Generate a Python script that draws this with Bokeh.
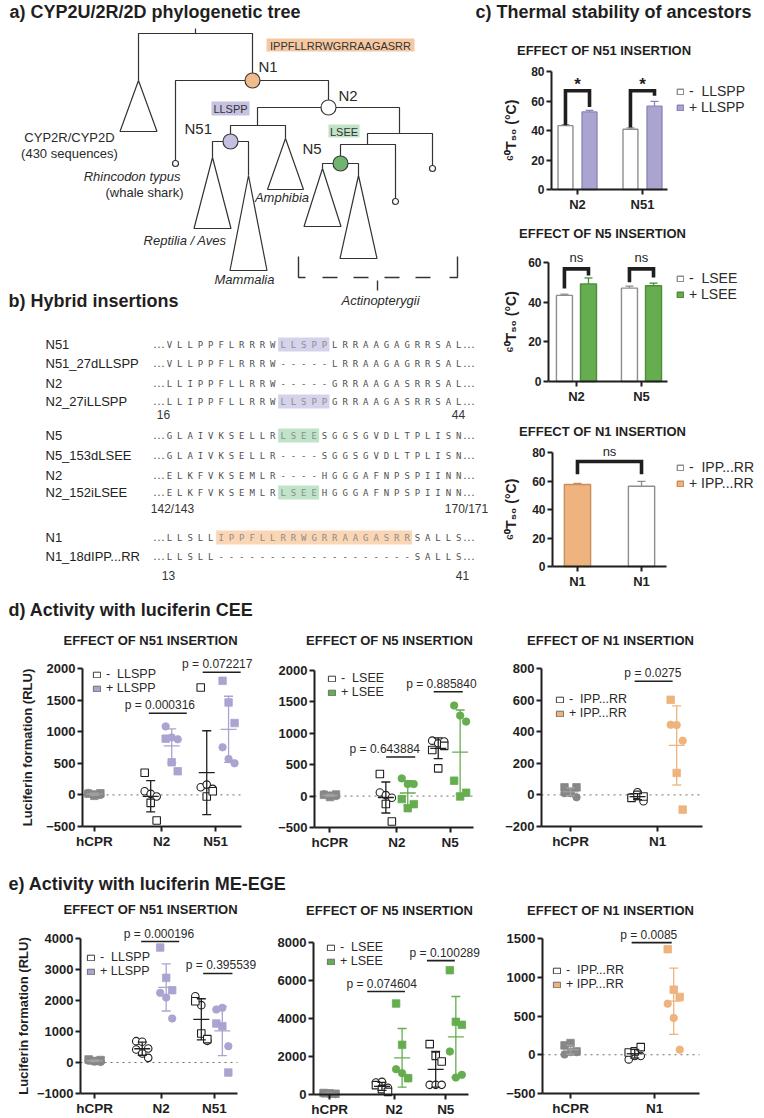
import numpy as np
from bokeh.plotting import figure
from bokeh.models import Range1d, FixedTicker, Label, Legend, LegendItem, ColumnDataSource
from bokeh.layouts import column, row
from bokeh.core.properties import value
from bokeh.embed import file_html
from bokeh.resources import INLINE

FONT = "Liberation Sans"
MONO = "DejaVu Sans Mono"
INK = "#1f1f1f"
TXT = "#2a2a2a"
LAV = "#a9a4d0"
LAV_EDGE = "#8c87b8"
GRN = "#66ad50"
GRN_EDGE = "#4d8c3a"
ORA = "#eeb37e"
ORA_EDGE = "#c98e5c"
GRY = "#878787"
WHITE_EDGE = "#8e8e8e"

# ======================= DATA =======================
# c) thermal stability, 60T50 (deg C): mean and SD
c1_groups = ["N2", "N51"]
c1_minus = [43.3, 40.8]
c1_minus_sd = [0.7, 1.0]
c1_plus = [52.6, 56.5]
c1_plus_sd = [1.0, 3.2]
c1_sig = ["*", "*"]
c1_bracket = [67, 67]
c1_legs = [(43.6, 56.0), (42.0, 63.5)]

c2_groups = ["N2", "N5"]
c2_minus = [43.4, 47.1]
c2_minus_sd = [0.6, 1.0]
c2_plus = [49.2, 48.3]
c2_plus_sd = [3.0, 1.3]
c2_sig = ["ns", "ns"]
c2_bracket = [56.8, 56.8]
c2_legs = [(46.9, 53.4), (50.0, 52.5)]

c3_groups = ["N1", "N1"]
c3_plus = [57.5]      # N1 (+ IPP...RR)
c3_plus_sd = [0.8]
c3_minus = [56.3]     # N1_18dIPP...RR (- IPP...RR)
c3_minus_sd = [3.5]
c3_sig = ["ns"]
c3_bracket = [73.7]
c3_legs = [(64.8, 64.8)]

# d) luciferin CEE (RLU); first three = replicate set 1 (circles), last three = set 2 (squares)
cee_hcpr = [30, 10, 0, 20, -15, 25]
cee_n2_minus = [58, 16, -26, 351, -126, -405]
cee_n2_llspp = [1084, 910, 880, 890, 516, 374]
cee_n51_minus = [121, 163, 95, 1700, -26, 58]
cee_n51_llspp = [753, 568, 500, 1805, 1463, 1137]
cee_n2_lsee = [282, 192, 192, -48, -192, -128]
cee_n5_minus = [883, 840, 870, 734, 441, 800]
cee_n5_lsee = [1442, 1282, 1186, 245, -5, 53]
cee_hcpr_n1 = [11, 11, -15, 48, 17, 48]
cee_n1_minus = [-15, 17, -40, -19, 0, -10]
cee_n1_ipp = [444, 442, 343, 602, 139, -93]
cee_pvals = ["p = 0.000316", "p = 0.072217", "p = 0.643884", "p = 0.885840", "p = 0.0275"]

# e) luciferin ME-EGE (RLU)
meg_hcpr = [60, 30, 20, 100, 50, 80]
meg_n2_minus_a = [688, 667, 452, 419, 290, 150]
meg_n2_llspp = [2247, 2096, 1419, 3709, 2731, 2333]
meg_n51_minus = [2139, 1850, 699, 1978, 935, 753]
meg_n51_llspp = [1709, 1763, 527, 1258, 1172, -323]
meg_hcpr_b = [50, 30, 20, 80, 60, 40]
meg_n2_minus = [631, 667, 351, 491, 281, 140]
meg_n2_lsee = [1333, 1123, 860, 4789, 2613, 860]
meg_n5_minus = [509, 509, 509, 2649, 2035, 1736]
meg_n5_lsee = [2263, 895, 1035, 6543, 3824, 3666]
meg_hcpr_c = [4, 34, 34, 121, 151, 43]
meg_n1_minus = [-60, -17, -17, 30, 43, 99]
meg_n1_ipp = [659, 474, 65, 1362, 840, 746]
meg_pvals = ["p = 0.000196", "p = 0.395539", "p = 0.074604", "p = 0.100289", "p = 0.0085"]

REP_MARKERS = ["circle", "circle", "circle", "square", "square", "square"]
ALL_CIRCLES = ["circle"] * 6
JITTER_PX = [-6.0, 0.0, 6.0, -6.0, 0.0, 6.0]

# b) alignment
aln_blocks = [
    (["N51", "N51_27dLLSPP", "N2", "N2_27iLLSPP"],
     ["VLLPPFLRRRWLLSPPLRRAAGAGRRSAL", "VLLPPFLRRRW-----LRRAAGAGRRSAL",
      "LLIPPFLLRRW-----GRRAAGASRRSAL", "LLIPPFLLRRWLLSPPGRRAAGASRRSAL"],
     [True, False, False, True], (11, 15), "#d5d2eb", ("16", "44")),
    (["N5", "N5_153dLSEE", "N2", "N2_152iLSEE"],
     ["GLAIVKSELLRLSEESGGSGVDLTPLISN", "GLAIVKSELLR----SGGSGVDLTPLISN",
      "ELKFVKSEMLR----HGGGAFNPSPIINN", "ELKFVKSEMLRLSEEHGGGAFNPSPIINN"],
     [True, False, False, True], (11, 14), "#bfe4ca", ("142/143", "170/171")),
    (["N1", "N1_18dIPP...RR"],
     ["LLSLLIPPFLLRRWGRRAAGASRRSALLS", "LLSLL-------------------SALLS"],
     [True, False], (5, 23), "#fad6b5", ("13", "41")),
]
aln_row_y = [[344, 363, 383, 401], [435, 455, 475, 492], [537, 556]]
aln_num_y = [414, 508, 575]
aln_num_x = [(163, 458), (172, 466), (168, 462)]
AL_X0, AL_DX = 169.0, 10.33


# ======================= HELPERS =======================
def canvas(w, h, x0, x1, y_top, y_bottom):
    p = figure(width=w, height=h, x_range=Range1d(x0, x1), y_range=Range1d(y_bottom, y_top),
               output_backend="svg", toolbar_location=None,
               x_axis_location=None, y_axis_location=None, min_border=0)
    p.grid.visible = False
    p.outline_line_color = None
    return p


def put_text(p, x, y, s, size, style="normal", align="left", color=TXT, baseline="middle", font=FONT):
    p.text(x=[x], y=[y], text=[s], text_font=value(font), text_font_size=size,
           text_font_style=style, text_align=align, text_baseline=baseline, text_color=color)


def chart_fig(w, h, box, xdom, ydom, ytick_size, xtick_size):
    """Whole figure is the frame; the axes sit at fixed data positions (the GraphPad box)."""
    left, right, top, bottom = box
    sx = (xdom[1] - xdom[0]) / (right - left)
    sy = (ydom[1] - ydom[0]) / (bottom - top)
    xr = Range1d(xdom[0] - left * sx, xdom[1] + (w - right) * sx)
    yr = Range1d(ydom[0] - (h - bottom) * sy, ydom[1] + top * sy)
    p = figure(width=w, height=h, x_range=xr, y_range=yr, output_backend="svg",
               toolbar_location=None, min_border=0)
    p.xgrid.visible = False
    p.ygrid.visible = False
    p.outline_line_color = None
    p.xaxis.fixed_location = ydom[0]
    p.yaxis.fixed_location = xdom[0]
    p.xaxis.bounds = (xdom[0], xdom[1])
    p.yaxis.bounds = (ydom[0], ydom[1])
    for ax in p.axis:
        ax.axis_line_width = 2
        ax.axis_line_color = INK
        ax.major_tick_line_width = 2
        ax.major_tick_line_color = INK
        ax.major_tick_in = 0
        ax.major_tick_out = 5
        ax.minor_tick_line_color = None
        ax.major_label_text_font = FONT
        ax.major_label_text_font_style = "bold"
        ax.major_label_text_color = INK
        ax.major_label_standoff = 2
    p.yaxis.major_label_text_font_size = ytick_size
    p.xaxis.major_label_text_font_size = xtick_size
    return p, sx


def add_title(p, text, xy, size="13px"):
    p.add_layout(Label(x=xy[0], y=xy[1], x_units="screen", y_units="screen", text=text,
                       text_font=FONT, text_font_style="bold", text_font_size=size,
                       text_align="center", text_baseline="middle", text_color=INK))


def style_legend(leg, size):
    leg.border_line_color = None
    leg.background_fill_alpha = 0
    leg.padding = 0
    leg.margin = 0
    leg.spacing = 0
    leg.label_text_font = FONT
    leg.label_text_font_size = size
    leg.label_text_color = TXT
    leg.label_height = 14
    leg.glyph_height = 7
    leg.glyph_width = 9
    leg.label_standoff = 5


def set_ylabel(p, text, standoff, size="13px"):
    p.yaxis.axis_label = text
    p.yaxis.axis_label_text_font = FONT
    p.yaxis.axis_label_text_font_size = size
    p.yaxis.axis_label_text_font_style = "bold"
    p.yaxis.axis_label_text_color = INK
    p.yaxis.axis_label_standoff = int(standoff)


# ---------- c) thermal stability bar charts ----------
def thermal_chart(h, box, xdom, ymax, yticks, labels, bars, brackets, levels, legs, sigs,
                  leg_loc, title, title_xy, ylab_standoff):
    p, upx = chart_fig(261, h, box, xdom, (0, ymax), "12px", "13px")
    p.yaxis.ticker = FixedTicker(ticks=yticks)
    p.xaxis.ticker = FixedTicker(ticks=[1, 2])
    p.xaxis.major_label_overrides = {1: labels[0], 2: labels[1]}
    set_ylabel(p, "\u2076\u2070T\u2085\u2080 (\u00b0C)", ylab_standoff, "14px")
    items = []
    for b in bars:
        xs = np.asarray(b["x"], float)
        tops = np.asarray(b["top"], float)
        sds = np.asarray(b["sd"], float)
        r = p.vbar(x=xs, top=tops, bottom=0, width=b["w"], fill_color=b["fill"],
                   line_color=b["edge"], line_width=1.4)
        cw = 4 * upx
        p.segment(x0=xs, y0=tops, x1=xs, y1=tops + sds, line_color=b["edge"], line_width=1.3)
        p.segment(x0=xs - cw, y0=tops + sds, x1=xs + cw, y1=tops + sds, line_color=b["edge"], line_width=1.3)
        items.append(LegendItem(label=b["label"], renderers=[r]))
    bx, by = [], []
    for (xl, xrr), lvl, (yl, yr) in zip(brackets, levels, legs):
        bx.append([xl, xl, xrr, xrr])
        by.append([yl, lvl, lvl, yr])
    p.multi_line(xs=bx, ys=by, line_color=INK, line_width=3.6, line_join="miter")
    for sx, sy, s in sigs:
        bold = s == "*"
        p.add_layout(Label(x=sx, y=sy, text=s, text_font=FONT,
                           text_font_size="17px" if bold else "13px",
                           text_font_style="bold" if bold else "normal",
                           text_align="center", text_baseline="middle", text_color=INK))
    leg = Legend(items=items, location=leg_loc)
    style_legend(leg, "14px")
    leg.glyph_width = 8
    p.add_layout(leg)
    add_title(p, title, title_xy)
    return p


# ---------- d/e) luciferin scatter charts ----------
def draw_group(p, xc, vals, kind, color, markers, upx):
    vals = np.asarray(vals, dtype=float)
    n = len(vals)
    xs = xc + np.asarray(JITTER_PX[:n]) * upx
    if kind == "minus":
        fill, edge, ebar, lw = "white", "#202020", "#202020", 1.1
    elif kind == "ctrl":
        fill, edge, ebar, lw = GRY, GRY, "#a0a0a0", 0.8
    else:
        fill, edge, ebar, lw = color, color, color, 0.8
    src = ColumnDataSource(dict(x=xs, y=vals, m=list(markers[:n])))
    p.scatter(x="x", y="y", marker="m", source=src, size=7.5, fill_color=fill,
              line_color=edge, line_width=lw)
    m = vals.mean()
    s = vals.std(ddof=1)
    mw, cw = 8 * upx, 4.5 * upx
    p.segment(x0=[xc, xc - cw, xc - cw, xc - mw], y0=[m - s, m + s, m - s, m],
              x1=[xc, xc + cw, xc + cw, xc + mw], y1=[m + s, m + s, m - s, m],
              line_color=ebar, line_width=1.3)
    return xc, m


def lum_chart(w, h, box, xdom, ydom, yticks, cats, groups, pvals, leg_labels, leg_color,
              leg_loc, title, title_xy, ylabel=None, ylab_standoff=0):
    p, upx = chart_fig(w, h, box, xdom, ydom, "13px", "13.5px")
    p.yaxis.ticker = FixedTicker(ticks=yticks)
    p.xaxis.ticker = FixedTicker(ticks=[c[0] for c in cats])
    p.xaxis.major_label_overrides = {c[0]: c[1] for c in cats}
    # dotted zero line across the axis box
    p.segment(x0=[xdom[0]], y0=[0], x1=[xdom[1]], y1=[0], line_color="#6e6e6e",
              line_width=1, line_dash="dotted")
    ref = None
    for g in groups:
        ref = draw_group(p, *g, upx=upx)
    for text, tx, x0, x1, yb in pvals:
        p.segment(x0=[x0], y0=[yb], x1=[x1], y1=[yb], line_color=INK, line_width=1.6)
        p.add_layout(Label(x=tx, y=yb, text=text, text_font=FONT, text_font_size="12px",
                           text_color=TXT, text_align="center", text_baseline="bottom",
                           y_offset=1))
    rs = []
    for fill, edge in (("white", "#3a3a3a"), (leg_color, "#707070")):
        rs.append(p.rect(x=[ref[0]], y=[ref[1]], width=0.01, height=0.01, fill_color=fill,
                         line_color=edge, line_width=1, visible=False))
    leg = Legend(items=[LegendItem(label=leg_labels[0], renderers=[rs[0]]),
                        LegendItem(label=leg_labels[1], renderers=[rs[1]])], location=leg_loc)
    style_legend(leg, "12.5px")
    p.add_layout(leg)
    add_title(p, title, title_xy)
    if ylabel:
        set_ylabel(p, ylabel, ylab_standoff)
    return p


# ======================= STRIP TITLES =======================
s1 = canvas(764, 24, 0, 764, 0, 24)
put_text(s1, 9, 11, "a) CYP2U/2R/2D phylogenetic tree", "18px", "bold", color=INK)
put_text(s1, 475, 11, "c) Thermal stability of ancestors", "18px", "bold", color=INK)

s_d = canvas(764, 25, 0, 764, 599, 624)
put_text(s_d, 8, 609.5, "d) Activity with luciferin CEE", "18px", "bold", color=INK)

s_e = canvas(764, 27, 0, 764, 870, 897)
put_text(s_e, 8, 883, "e) Activity with luciferin ME-EGE", "18px", "bold", color=INK)

# ======================= PANEL a + b =======================
ab = canvas(503, 575, 0, 503, 24, 599)
TREE = "#333333"
tree_edges = [
    [(138, 80), (138, 33), (252, 33), (252, 80)],
    [(195, 28), (195, 33)],
    [(175, 163), (175, 80), (328, 80), (328, 107)],
    [(257, 125), (257, 107), (399, 107), (399, 133)],
    [(230, 141), (230, 125), (285, 125), (285, 138)],
    [(212, 157), (212, 141), (248, 141), (248, 175)],
    [(432, 168), (432, 133), (367, 133), (367, 144)],
    [(395, 201), (395, 144), (340, 144), (340, 163)],
    [(322, 168), (322, 163), (358, 163), (358, 175)],
]
ab.multi_line(xs=[[q[0] for q in e] for e in tree_edges], ys=[[q[1] for q in e] for e in tree_edges],
              line_color=TREE, line_width=1.2)
clades = [(138, 80, 18.5, 131), (212, 157, 18.5, 228), (248, 175, 18.5, 270),
          (285, 138, 18, 189), (322, 168, 18.5, 226), (358, 175, 18.5, 258)]
ab.patches(xs=[[ax, ax - hw, ax + hw] for ax, ay, hw, byy in clades],
           ys=[[ay, byy, byy] for ax, ay, hw, byy in clades],
           fill_color="white", line_color=TREE, line_width=1.2)
# Actinopterygii bracket
ab.line(x=[298, 298, 305], y=[256, 277, 277], line_color=TREE, line_width=1.4)
ab.line(x=[449, 457, 457], y=[277, 277, 256], line_color=TREE, line_width=1.4)
ab.line(x=[322, 432], y=[277, 277], line_color=TREE, line_width=1.4, line_dash="15 16")
ab.segment(x0=[377], y0=[280], x1=[377], y1=[290], line_color=TREE, line_width=1.4)
# tips
ab.scatter(x=[175, 432, 395], y=[163, 168, 201], size=6, fill_color="white",
           line_color=TREE, line_width=1.2)
# tag boxes
tags = [("IPPFLLRRWGRRAAGASRR", 266, 414, 38, 51, "#f6c8a2"),
        ("LLSPP", 211, 249, 101, 115, "#c6c2e2"),
        ("LSEE", 328, 359, 124, 137, "#bfe3c7")]
ab.quad(left=[t[1] for t in tags], right=[t[2] for t in tags], top=[t[3] for t in tags],
        bottom=[t[4] for t in tags], fill_color=[t[5] for t in tags], line_color=None)
for t in tags:
    put_text(ab, (t[1] + t[2]) / 2, (t[3] + t[4]) / 2 + 0.5, t[0], "11px", align="center", color="#333333")
# ancestral nodes
nodes = [(252, 80, "#f3bb8c"), (328, 107, "white"), (230, 141, "#c3c0e0"), (340, 163, "#6fb46f")]
ab.scatter(x=[n[0] for n in nodes], y=[n[1] for n in nodes], size=15,
           fill_color=[n[2] for n in nodes], line_color="#3a3a3a", line_width=1.2)
put_text(ab, 258, 66, "N1", "15px")
put_text(ab, 338, 95, "N2", "15px")
put_text(ab, 184, 128, "N51", "15px")
put_text(ab, 302, 148, "N5", "15px")
put_text(ab, 69, 137, "CYP2R/CYP2D", "13px", align="center")
put_text(ab, 69, 153, "(430 sequences)", "13px", align="center")
put_text(ab, 180, 176, "Rhincodon typus", "13px", "italic", align="right")
put_text(ab, 183, 192, "(whale shark)", "13px", align="right")
put_text(ab, 184.5, 240, "Reptilia / Aves", "13px", "italic", align="center")
put_text(ab, 244, 279, "Mammalia", "13px", "italic", align="center")
put_text(ab, 281.5, 197, "Amphibia", "13px", "italic", align="center")
put_text(ab, 380, 300, "Actinopterygii", "13px", "italic", align="center")
put_text(ab, 8, 300, "b) Hybrid insertions", "18px", "bold", color=INK)

# alignment
hl_l, hl_r, hl_t, hl_b, hl_c = [], [], [], [], []
lx, ly, lt, lc = [], [], [], []
for (names, seqs, hls, (i0, i1), hcol, nums), ys, ny, (nx0, nx1) in zip(aln_blocks, aln_row_y, aln_num_y, aln_num_x):
    for name, seq, hl, y in zip(names, seqs, hls, ys):
        put_text(ab, 45, y, name, "13px", color="#222222")
        if hl:
            hl_l.append(AL_X0 + AL_DX * i0 - 5)
            hl_r.append(AL_X0 + AL_DX * i1 + 5)
            hl_t.append(y - 7)
            hl_b.append(y + 7)
            hl_c.append(hcol)
        for k, ch in enumerate(seq):
            lx.append(AL_X0 + AL_DX * k)
            ly.append(y)
            lt.append(ch)
            lc.append("#8d8d8d" if (hl and i0 <= k <= i1) else "#505050")
        for d in range(3):
            lx += [AL_X0 - 14.5 + 4 * d, AL_X0 + AL_DX * len(seq) - 4 + 4 * d]
            ly += [y, y]
            lt += [".", "."]
            lc += ["#505050", "#505050"]
    put_text(ab, nx0, ny, nums[0], "12px", align="center", color="#333333")
    put_text(ab, nx1, ny, nums[1], "12px", align="center", color="#333333")
ab.quad(left=hl_l, right=hl_r, top=hl_t, bottom=hl_b, fill_color=hl_c, line_color=None)
ab.text(x=lx, y=ly, text=lt, text_color=lc, text_font=value(MONO), text_font_size="9px",
        text_align="center", text_baseline="middle")

# ======================= PANEL c =======================
c1 = thermal_chart(
    188, (48, 164, 47, 165), (0.6, 2.385), 80, [0, 20, 40, 60, 80], c1_groups,
    [dict(x=[1 - 0.185, 2 - 0.185], top=c1_minus, sd=c1_minus_sd, w=0.23, fill="white",
          edge=WHITE_EDGE, label="-  LLSPP"),
     dict(x=[1 + 0.185, 2 + 0.185], top=c1_plus, sd=c1_plus_sd, w=0.23, fill=LAV,
          edge=LAV_EDGE, label="+ LLSPP")],
    [(1 - 0.185, 1 + 0.185), (2 - 0.185, 2 + 0.185)], c1_bracket, c1_legs,
    [(1, 71, c1_sig[0]), (2, 71, c1_sig[1])], (173, 97), "EFFECT OF N51 INSERTION", (100.5, 162), 9)

c2 = thermal_chart(
    193, (45, 164, 50, 169), (0.57, 2.4), 60, [0, 20, 40, 60], c2_groups,
    [dict(x=[1 - 0.185, 2 - 0.185], top=c2_minus, sd=c2_minus_sd, w=0.246, fill="white",
          edge=WHITE_EDGE, label="-  LSEE"),
     dict(x=[1 + 0.185, 2 + 0.185], top=c2_plus, sd=c2_plus_sd, w=0.246, fill=GRN,
          edge=GRN_EDGE, label="+ LSEE")],
    [(1 - 0.185, 1 + 0.185), (2 - 0.185, 2 + 0.185)], c2_bracket, c2_legs,
    [(1, 62.6, c2_sig[0]), (2, 62.6, c2_sig[1])], (173, 103), "EFFECT OF N5 INSERTION", (99, 172), 6)

c3 = thermal_chart(
    194, (49, 163, 47, 161), (0.61, 2.39), 80, [0, 20, 40, 60, 80], c3_groups,
    [dict(x=[2], top=c3_minus, sd=c3_minus_sd, w=0.41, fill="white", edge=WHITE_EDGE,
          label="-  IPP...RR"),
     dict(x=[1], top=c3_plus, sd=c3_plus_sd, w=0.41, fill=ORA, edge=ORA_EDGE,
          label="+ IPP...RR")],
    [(1, 2)], c3_bracket, c3_legs,
    [(1.5, 80.7, c3_sig[0])], (173, 108), "EFFECT OF N1 INSERTION", (99, 168), 10)

# ======================= PANEL d =======================
d1 = lum_chart(258, 246, (82, 241, 44, 202), (0.56, 6.46), (-500, 2000),
               [-500, 0, 500, 1000, 1500, 2000], [(1, "hCPR"), (3.5, "N2"), (5.5, "N51")],
               [(1, cee_hcpr, "ctrl", GRY, REP_MARKERS),
                (3.09, cee_n2_minus, "minus", None, REP_MARKERS),
                (3.87, cee_n2_llspp, "plus", LAV, REP_MARKERS),
                (5.17, cee_n51_minus, "minus", None, REP_MARKERS),
                (5.98, cee_n51_llspp, "plus", LAV, REP_MARKERS)],
               [(cee_pvals[0], 3.43, 3.02, 4.43, 1293), (cee_pvals[1], 5.56, 5.02, 6.43, 1940)],
               ("-  LLSPP", "+ LLSPP"), LAV, (92, 175), "EFFECT OF N51 INSERTION", (150, 230),
               ylabel="Luciferin formation (RLU)", ylab_standoff=8)

d2 = lum_chart(242, 246, (56, 215, 46, 203), (0.42, 6.37), (-500, 2000),
               [-500, 0, 500, 1000, 1500, 2000], [(1, "hCPR"), (3.5, "N2"), (5.5, "N5")],
               [(1, cee_hcpr, "ctrl", GRY, REP_MARKERS),
                (3.09, cee_n2_minus, "minus", None, REP_MARKERS),
                (3.91, cee_n2_lsee, "plus", GRN, REP_MARKERS),
                (5.05, cee_n5_minus, "minus", None, REP_MARKERS),
                (5.87, cee_n5_lsee, "plus", GRN, REP_MARKERS)],
               [(cee_pvals[2], 3.05, 3.1, 4.19, 623), (cee_pvals[3], 5.17, 4.88, 5.97, 1661)],
               ("-  LSEE", "+ LSEE"), GRN, (69, 171), "EFFECT OF N5 INSERTION", (131, 230))

d3 = lum_chart(264, 246, (41, 202, 44, 202), (0, 5.55), (-200, 800),
               [-200, 0, 200, 400, 600, 800], [(1, "hCPR"), (4, "N1")],
               [(1, cee_hcpr_n1, "ctrl", GRY, REP_MARKERS),
                (3.31, cee_n1_minus, "minus", None, REP_MARKERS),
                (4.66, cee_n1_ipp, "plus", ORA, REP_MARKERS)],
               [(cee_pvals[4], 3.84, 3.21, 4.52, 719)],
               ("-  IPP...RR", "+ IPP...RR"), ORA, (55, 150), "EFFECT OF N1 INSERTION", (110, 230))

# ======================= PANEL e =======================
e1 = lum_chart(258, 221, (80, 237, 41, 196), (0.47, 6.37), (-1000, 4000),
               [-1000, 0, 1000, 2000, 3000, 4000], [(1, "hCPR"), (3.5, "N2"), (5.5, "N51")],
               [(1, meg_hcpr, "ctrl", GRY, REP_MARKERS),
                (2.79, meg_n2_minus_a, "minus", None, ALL_CIRCLES),
                (3.69, meg_n2_llspp, "plus", LAV, REP_MARKERS),
                (5.01, meg_n51_minus, "minus", None, REP_MARKERS),
                (5.8, meg_n51_llspp, "plus", LAV, REP_MARKERS)],
               [(meg_pvals[0], 3.42, 2.75, 4.18, 3903), (meg_pvals[1], 5.75, 5.08, 6.18, 2871)],
               ("-  LLSPP", "+ LLSPP"), LAV, (86, 140), "EFFECT OF N51 INSERTION", (150, 209),
               ylabel="Luciferin formation (RLU)", ylab_standoff=3)

e2 = lum_chart(242, 221, (55, 210, 45, 197), (0.38, 6.38), (0, 8000),
               [0, 2000, 4000, 6000, 8000], [(1, "hCPR"), (3.5, "N2"), (5.5, "N5")],
               [(1, meg_hcpr_b, "ctrl", GRY, REP_MARKERS),
                (3.03, meg_n2_minus, "minus", None, REP_MARKERS),
                (3.81, meg_n2_lsee, "plus", GRN, REP_MARKERS),
                (5.11, meg_n5_minus, "minus", None, REP_MARKERS),
                (5.89, meg_n5_lsee, "plus", GRN, REP_MARKERS)],
               [(meg_pvals[2], 3.02, 2.46, 3.92, 5418), (meg_pvals[3], 5.46, 4.77, 5.85, 7048)],
               ("-  LSEE", "+ LSEE"), GRN, (68, 150), "EFFECT OF N5 INSERTION", (131, 208))

e3 = lum_chart(264, 221, (42, 199, 41, 196), (0, 5.6), (-500, 1500),
               [-500, 0, 500, 1000, 1500], [(1, "hCPR"), (4, "N1")],
               [(1, meg_hcpr_c, "ctrl", GRY, REP_MARKERS),
                (3.29, meg_n1_minus, "minus", None, REP_MARKERS),
                (4.68, meg_n1_ipp, "plus", ORA, REP_MARKERS)],
               [(meg_pvals[4], 3.79, 3.18, 4.61, 1447)],
               ("-  IPP...RR", "+ IPP...RR"), ORA, (52, 127), "EFFECT OF N1 INSERTION", (110, 208))

layout = column(s1, row(ab, column(c1, c2, c3)), s_d, row(d1, d2, d3), s_e, row(e1, e2, e3))

open("out.html", "w").write(file_html(layout, INLINE))
